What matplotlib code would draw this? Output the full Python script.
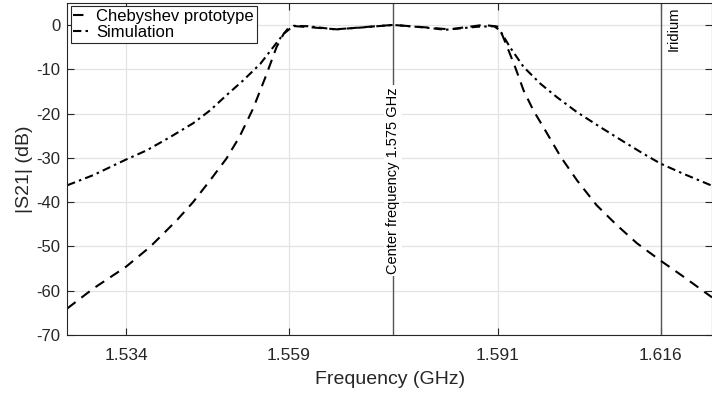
import matplotlib
matplotlib.use("Agg")
import matplotlib.pyplot as plt

plt.rcParams['font.family'] = ['Liberation Sans', 'DejaVu Sans']
plt.rcParams['axes.unicode_minus'] = False

# Chebyshev prototype (dashed)
cheb_f = [1.525, 1.5290, 1.534, 1.5377, 1.5418, 1.5443, 1.5469, 1.5494, 1.5514, 1.5535,
          1.5555, 1.5571, 1.5582, 1.5592,
          1.5620, 1.5664, 1.5705, 1.575, 1.5795, 1.5836, 1.5888, 1.5912,
          1.5923, 1.5937, 1.5950, 1.5965, 1.5986, 1.6007, 1.6032, 1.6062, 1.6093,
          1.6124, 1.616, 1.6195, 1.6239]
cheb_db = [-64.0, -59.5, -54.6, -50.1, -44.1, -40.0, -35.1, -30.2, -25.3, -18.9,
           -11.4, -5.0, -2.0, -0.2,
           -0.5, -1.0, -0.5, 0.0, -0.5, -1.0, 0.0, -0.4,
           -4.3, -9.5, -14.8, -19.3, -24.5, -29.8, -35.1, -40.7, -45.2,
           -49.3, -53.2, -56.8, -61.5]

# Simulation (dash-dot)
sim_f = [1.525, 1.5290, 1.534, 1.5372, 1.5408, 1.5443, 1.5469, 1.5494, 1.5520, 1.5546,
         1.5566, 1.5582, 1.5597,
         1.5620, 1.5660, 1.5700, 1.575, 1.5800, 1.5830, 1.5880, 1.5905,
         1.5914, 1.5929, 1.5950, 1.5976, 1.6001, 1.6032, 1.6068, 1.6104, 1.6134,
         1.616, 1.6195, 1.6239]
sim_db = [-36.2, -33.9, -30.4, -28.3, -25.3, -22.2, -19.3, -15.9, -12.5, -8.8,
          -5.0, -2.0, -0.2,
          -0.3, -1.0, -0.6, 0.0, -0.6, -1.1, -0.4, -0.3,
          -1.3, -5.0, -9.5, -13.3, -16.3, -19.7, -23.1, -26.4, -29.1,
          -31.3, -33.6, -36.3]

xticks = [1.534, 1.559, 1.591, 1.616]
yticks = [0, -10, -20, -30, -40, -50, -60, -70]
center_f = 1.575
iridium_f = 1.616

fig = plt.figure(figsize=(7.12, 3.96), dpi=100)
ax = fig.add_axes([0.0945, 0.154, 0.9055, 0.839])

ax.plot(cheb_f, cheb_db, '--', color='k', lw=1.5, dashes=(5, 3.5), label='Chebyshev prototype')
ax.plot(sim_f, sim_db, '-.', color='k', lw=1.5, dashes=(4, 2, 1.2, 2), label='Simulation')

ax.axvline(center_f, color='#555555', lw=1.0, zorder=1)
ax.axvline(iridium_f, color='#555555', lw=1.0, zorder=1)
ax.text(center_f, 0.466, 'Center frequency 1.575 GHz', rotation=90, ha='center', va='center',
        transform=ax.get_xaxis_transform(), fontsize=10.5,
        bbox=dict(facecolor='white', edgecolor='none', pad=1.5), zorder=2)
ax.text(iridium_f + 0.0009, 4.2, 'Iridium', rotation=90, ha='left', va='top', fontsize=10.5)

ax.set_xlim(1.525, 1.6239)
ax.set_ylim(-70, 5)
ax.set_xticks(xticks)
ax.set_xticklabels([f'{t:.3f}' for t in xticks])
ax.set_yticks(yticks)
ax.grid(True, color='#e3e3e3', lw=0.9)
ax.set_axisbelow(True)
ax.tick_params(direction='in', top=True, right=True, length=5, labelsize=12.5,
               colors='#262626')
ax.tick_params(axis='x', pad=9)
ax.tick_params(axis='y', pad=5, labelsize=12)
for s in ax.spines.values():
    s.set_color('#262626')
ax.set_xlabel('Frequency (GHz)', fontsize=14, color='#262626', labelpad=6)
ax.set_ylabel('|S21| (dB)', fontsize=14, color='#262626', labelpad=2)

leg = ax.legend(loc='upper left', fontsize=12, handlelength=1.0, handletextpad=0.4,
                borderpad=0.15, labelspacing=0.1, fancybox=False, framealpha=1,
                borderaxespad=0.2)
leg.get_frame().set_edgecolor('#262626')
leg.get_frame().set_linewidth(0.8)

fig.savefig('out.png', dpi=100)
